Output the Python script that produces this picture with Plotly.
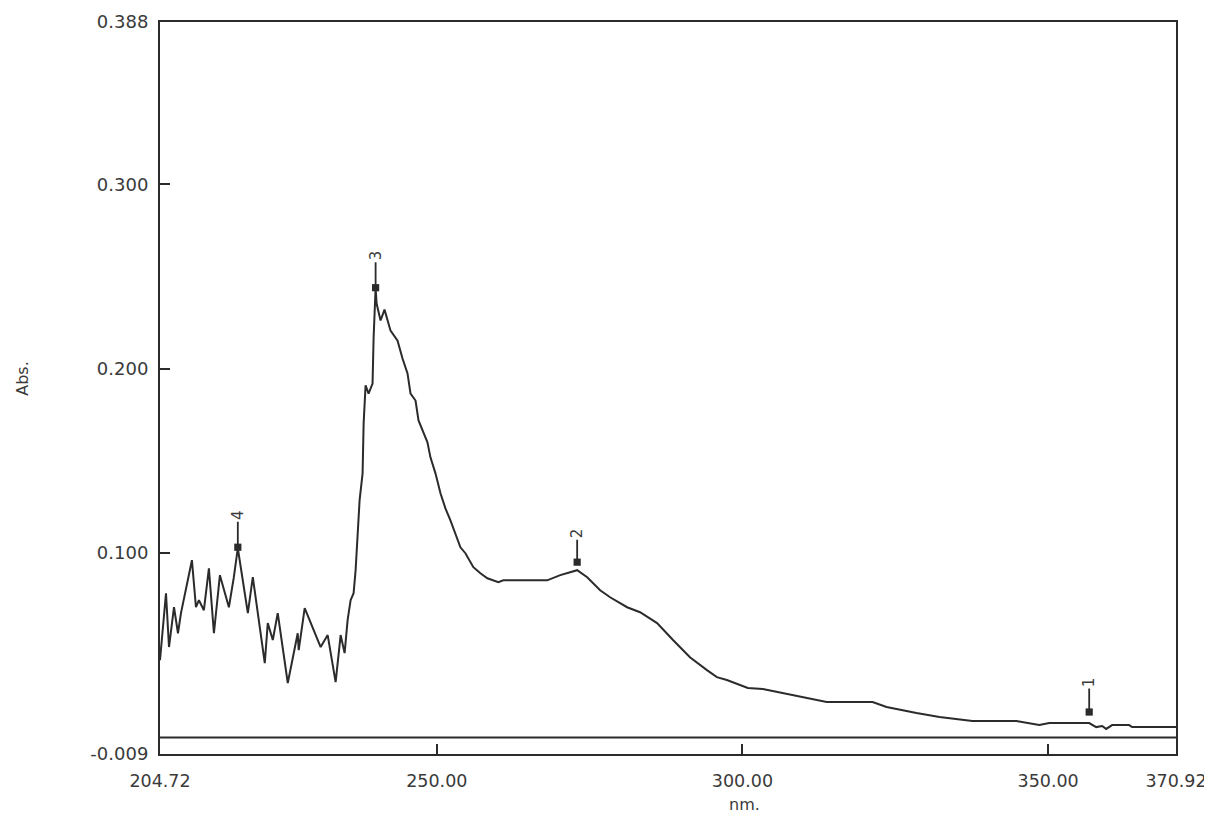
import plotly.graph_objects as go

# Spectrum
wavelength_nm = [
    204.72, 205.70, 206.19, 207.01, 207.66, 208.15, 209.94, 210.60, 211.09, 211.90,
    212.72, 213.54, 214.52, 215.99, 216.80, 217.45, 219.09, 219.90, 221.86, 222.35,
    223.17, 223.98, 225.62, 227.25, 227.41, 228.39, 231.00, 232.15, 233.45, 234.27,
    234.92, 235.41, 235.90, 236.39, 236.72, 237.05, 237.37, 237.86, 238.03, 238.35,
    238.84, 239.49, 239.66, 239.99, 240.15, 240.80, 241.45, 242.43, 243.58, 244.39,
    245.21, 245.70, 246.52, 247.01, 247.82, 248.47, 248.96, 249.78, 250.60, 251.41,
    252.23, 253.05, 253.86, 254.68, 255.98, 257.13, 258.27, 260.07, 260.88, 268.06,
    270.19, 271.82, 272.96, 274.60, 276.72, 278.35, 281.13, 283.25, 286.03, 288.64,
    291.41, 294.19, 295.82, 297.45, 300.88, 303.33, 306.59, 309.37, 313.78, 321.29,
    323.57, 328.47, 332.23, 337.61, 344.80, 348.55, 350.19, 356.72, 357.86, 358.84,
    359.49, 360.47, 363.25, 363.74, 370.92,
]
absorbance = [
    0.0419, 0.0782, 0.0490, 0.0706, 0.0565, 0.0674, 0.0961, 0.0706, 0.0744, 0.0690,
    0.0917, 0.0565, 0.0880, 0.0706, 0.0869, 0.1026, 0.0674, 0.0869, 0.0403, 0.0620,
    0.0528, 0.0674, 0.0295, 0.0565, 0.0473, 0.0701, 0.0490, 0.0555, 0.0300, 0.0555,
    0.0457, 0.0636, 0.0744, 0.0782, 0.0907, 0.1085, 0.1286, 0.1432, 0.1703, 0.1909,
    0.1865, 0.1919, 0.2163, 0.2439, 0.2353, 0.2261, 0.2320, 0.2206, 0.2152, 0.2055,
    0.1974, 0.1865, 0.1827, 0.1719, 0.1649, 0.1600, 0.1519, 0.1432, 0.1324, 0.1242,
    0.1177, 0.1107, 0.1031, 0.0999, 0.0923, 0.0890, 0.0863, 0.0842, 0.0852, 0.0852,
    0.0880, 0.0896, 0.0907, 0.0869, 0.0798, 0.0760, 0.0706, 0.0679, 0.0620, 0.0528,
    0.0435, 0.0365, 0.0327, 0.0311, 0.0268, 0.0262, 0.0240, 0.0219, 0.0192, 0.0192,
    0.0165, 0.0132, 0.0111, 0.0089, 0.0089, 0.0067, 0.0078, 0.0078, 0.0056, 0.0062,
    0.0046, 0.0067, 0.0067, 0.0056, 0.0056,
]

# Peak picks
peak_labels = ["1", "2", "3", "4"]
peak_nm = [356.72, 272.96, 239.99, 217.45]
peak_abs = [0.0078, 0.0907, 0.2439, 0.1026]
peak_offset_px = [-41, -37, -32, -33]
peak_standoff_px = [11, 8, 0, 1]

# Axis ticks
x_ticks = [204.72, 250.00, 300.00, 350.00, 370.92]
x_ticktext = ["204.72", "250.00", "300.00", "350.00", "370.92"]
y_ticks = [-0.009, 0.100, 0.200, 0.300, 0.388]
y_ticktext = ["-0.009", "0.100", "0.200", "0.300", "0.388"]
x_range = [204.72, 370.92]
y_range = [-0.009, 0.388]
baseline_abs = 0.0

INK = "#2b2b2b"
TXT = "#3a3a3a"
FONT = "DejaVu Sans"

fig = go.Figure()
fig.add_trace(go.Scatter(
    x=wavelength_nm, y=absorbance, mode="lines",
    line=dict(color=INK, width=2, shape="linear"),
    showlegend=False, hoverinfo="x+y",
))

fig.add_shape(type="line", xref="x", yref="y",
              x0=x_range[0], x1=x_range[1], y0=baseline_abs, y1=baseline_abs,
              line=dict(color=INK, width=2))

for lab, px, py, off, so in zip(peak_labels, peak_nm, peak_abs, peak_offset_px, peak_standoff_px):
    fig.add_annotation(
        x=px, y=py, xref="x", yref="y", text=lab, textangle=-90,
        showarrow=True, ax=0, ay=off, arrowhead=7, arrowsize=1.0,
        arrowwidth=1.8, arrowcolor=INK, standoff=so,
        font=dict(family=FONT, size=15, color=TXT),
    )

fig.add_annotation(text="Abs.", xref="paper", yref="paper",
                   x=(21 - 159) / 1018, y=(754 - 378) / 733,
                   xanchor="center", yanchor="middle",
                   textangle=-90, showarrow=False,
                   font=dict(family=FONT, size=16, color=TXT))
fig.add_annotation(text="nm.", xref="paper", yref="paper",
                   x=(745 - 159) / 1018, y=(754 - 805) / 733,
                   xanchor="center", yanchor="middle",
                   showarrow=False,
                   font=dict(family=FONT, size=16, color=TXT))

axis_common = dict(
    showgrid=False, zeroline=False, showline=True, linecolor=INK, linewidth=2,
    mirror=True, ticks="inside", ticklen=10, tickwidth=2, tickcolor=INK,
)
fig.update_xaxes(range=x_range, tickmode="array", tickvals=x_ticks,
                 ticktext=x_ticktext, ticklabelstandoff=10,
                 tickfont=dict(family=FONT, size=17.5, color=TXT), **axis_common)
fig.update_yaxes(range=y_range, tickmode="array", tickvals=y_ticks,
                 ticktext=y_ticktext, ticklabelstandoff=6,
                 tickfont=dict(family=FONT, size=18, color=TXT), **axis_common)

fig.update_layout(
    width=1212, height=816,
    margin=dict(l=152, r=44, t=14, b=70, autoexpand=False),
    paper_bgcolor="white", plot_bgcolor="white",
    font=dict(family=FONT, color=TXT),
)

fig.write_html("out.html")
